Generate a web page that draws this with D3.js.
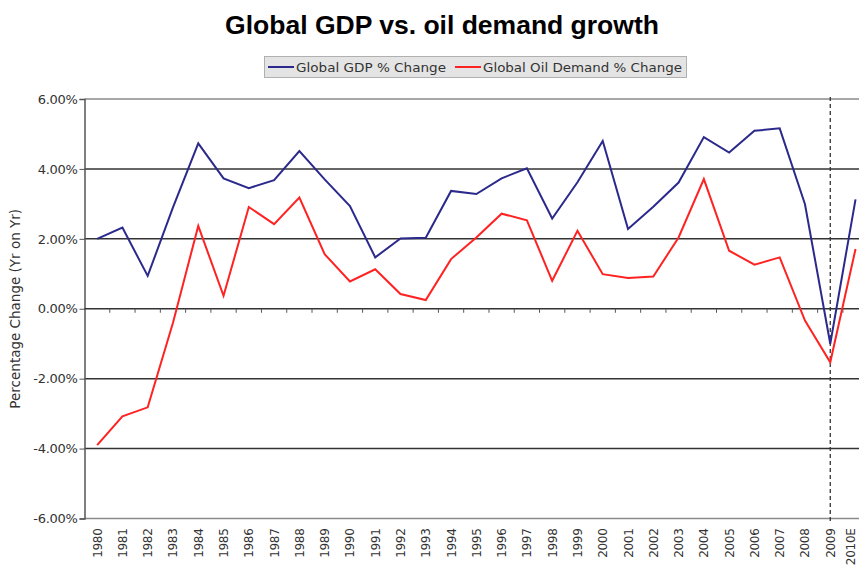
<!DOCTYPE html>
<html>
<head>
<meta charset="utf-8">
<script src="https://cdn.jsdelivr.net/npm/d3@7"></script>
<style>
  body { margin: 0; background: #fff; }
  text { font-family: "Liberation Sans", Arial, sans-serif; }
</style>
</head>
<body>
<script>
// chart data
const years = ["1980","1981","1982","1983","1984","1985","1986","1987","1988","1989",
  "1990","1991","1992","1993","1994","1995","1996","1997","1998","1999",
  "2000","2001","2002","2003","2004","2005","2006","2007","2008","2009","2010E"];
const gdpChange = [2.0, 2.32, 0.94, 2.9, 4.73, 3.73, 3.45, 3.68, 4.51, 3.7,
  2.94, 1.47, 2.01, 2.03, 3.37, 3.28, 3.73, 4.02, 2.58, 3.62,
  4.8, 2.28, 2.92, 3.61, 4.91, 4.47, 5.09, 5.16, 2.99, -1.0, 3.13];
const oilChange = [-3.9, -3.08, -2.82, -0.4, 2.37, 0.37, 2.91, 2.42, 3.18, 1.56,
  0.78, 1.13, 0.42, 0.25, 1.42, 2.04, 2.72, 2.53, 0.8, 2.23,
  0.99, 0.88, 0.92, 2.04, 3.71, 1.66, 1.26, 1.47, -0.34, -1.53, 1.71];
const yTicks = [-6, -4, -2, 0, 2, 4, 6];
const seriesNames = ["Global GDP % Change", "Global Oil Demand % Change"];
const markerYear = "2009";

const width = 859, height = 566;
const plotLeft = 84.5, plotTop = 99, plotBottom = 518.5;
const blue = "#2b2a8c", red = "#ff2222";
const smallFont = "'DejaVu Sans', Verdana, sans-serif";

let svg = d3.select("body").append("svg")
    .attr("width", width)
    .attr("height", height);

let x = d3.scaleBand()
    .domain(years)
    .range([plotLeft, plotLeft + years.length * 25.28]);

let y = d3.scaleLinear()
    .domain([-6, 6])
    .range([plotBottom, plotTop]);

const cx = d => x(d) + x.bandwidth() / 2;

// title
svg.append("text")
    .attr("x", 442)
    .attr("y", 34)
    .attr("text-anchor", "middle")
    .style("font-size", "26.5px")
    .style("font-weight", "bold")
    .text("Global GDP vs. oil demand growth");

// gridlines (skip zero, drawn as axis)
svg.append("g")
    .selectAll("line")
    .data(yTicks.filter(d => d !== 0))
    .enter().append("line")
    .attr("x1", plotLeft)
    .attr("x2", width)
    .attr("y1", d => y(d))
    .attr("y2", d => y(d))
    .attr("stroke", d => Math.abs(d) === 6 ? "#8a8a8a" : "#333")
    .attr("stroke-width", 1.5);

// y axis
let yAxis = svg.append("g")
    .attr("transform", `translate(${plotLeft},0)`)
    .call(d3.axisLeft(y)
        .tickValues(yTicks)
        .tickSize(5)
        .tickFormat(d => d.toFixed(2) + "%"));
yAxis.select(".domain").attr("stroke", "#555").attr("stroke-width", 1.5);
yAxis.selectAll(".tick line").attr("stroke", "#555");
yAxis.selectAll(".tick text")
    .attr("x", -7)
    .style("font-size", "13px")
    .style("font-family", smallFont)
    .style("letter-spacing", "-0.3px")
    .attr("fill", "#333");

// zero axis with ticks between categories
svg.append("line")
    .attr("x1", plotLeft).attr("x2", width)
    .attr("y1", y(0)).attr("y2", y(0))
    .attr("stroke", "#333").attr("stroke-width", 1.5);
svg.append("g")
    .selectAll("line")
    .data(years)
    .enter().append("line")
    .attr("x1", d => x(d) + x.bandwidth())
    .attr("x2", d => x(d) + x.bandwidth())
    .attr("y1", y(0))
    .attr("y2", y(0) + 4)
    .attr("stroke", "#555");

// x labels at bottom
svg.append("g")
    .selectAll("text")
    .data(years)
    .enter().append("text")
    .attr("transform", d => `translate(${Math.min(cx(d) + 4.5, 855)},${plotBottom + 10}) rotate(-90)`)
    .attr("text-anchor", "end")
    .style("font-size", "12px")
    .style("font-family", smallFont)
    .style("letter-spacing", "-0.3px")
    .attr("fill", "#333")
    .text(d => d);

// y axis title
svg.append("text")
    .attr("transform", `translate(20,${(plotTop + plotBottom) / 2}) rotate(-90)`)
    .attr("text-anchor", "middle")
    .style("font-size", "13.5px")
    .style("font-family", smallFont)
    .attr("fill", "#333")
    .text("Percentage Change (Yr on Yr)");

// dashed marker at 2009
svg.append("line")
    .attr("x1", cx(markerYear)).attr("x2", cx(markerYear))
    .attr("y1", plotTop - 2).attr("y2", plotBottom + 3)
    .attr("stroke", "#333")
    .attr("stroke-width", 1.3)
    .attr("stroke-dasharray", "4,3");

// series lines
let line = d3.line()
    .x((d, i) => cx(years[i]))
    .y(d => y(d));

svg.append("path")
    .datum(gdpChange)
    .attr("fill", "none")
    .attr("stroke", blue)
    .attr("stroke-width", 2)
    .attr("d", line);

svg.append("path")
    .datum(oilChange)
    .attr("fill", "none")
    .attr("stroke", red)
    .attr("stroke-width", 2)
    .attr("d", line);

// legend
let legend = svg.append("g");
legend.append("rect")
    .attr("x", 264.5).attr("y", 56.5)
    .attr("width", 422).attr("height", 21)
    .attr("fill", "#e4e4e4")
    .attr("stroke", "#b0b0b0");

const legendItems = [
    { name: seriesNames[0], color: blue, x: 268, w: 150 },
    { name: seriesNames[1], color: red, x: 455, w: 199 }
];
legendItems.forEach(item => {
    legend.append("line")
        .attr("x1", item.x).attr("x2", item.x + 26)
        .attr("y1", 67).attr("y2", 67)
        .attr("stroke", item.color)
        .attr("stroke-width", 2);
    legend.append("text")
        .attr("x", item.x + 28)
        .attr("y", 72)
        .attr("textLength", item.w)
        .attr("lengthAdjust", "spacingAndGlyphs")
        .style("font-size", "13px")
        .style("font-family", smallFont)
        .attr("fill", "#333")
        .text(item.name);
});
</script>
</body>
</html>
